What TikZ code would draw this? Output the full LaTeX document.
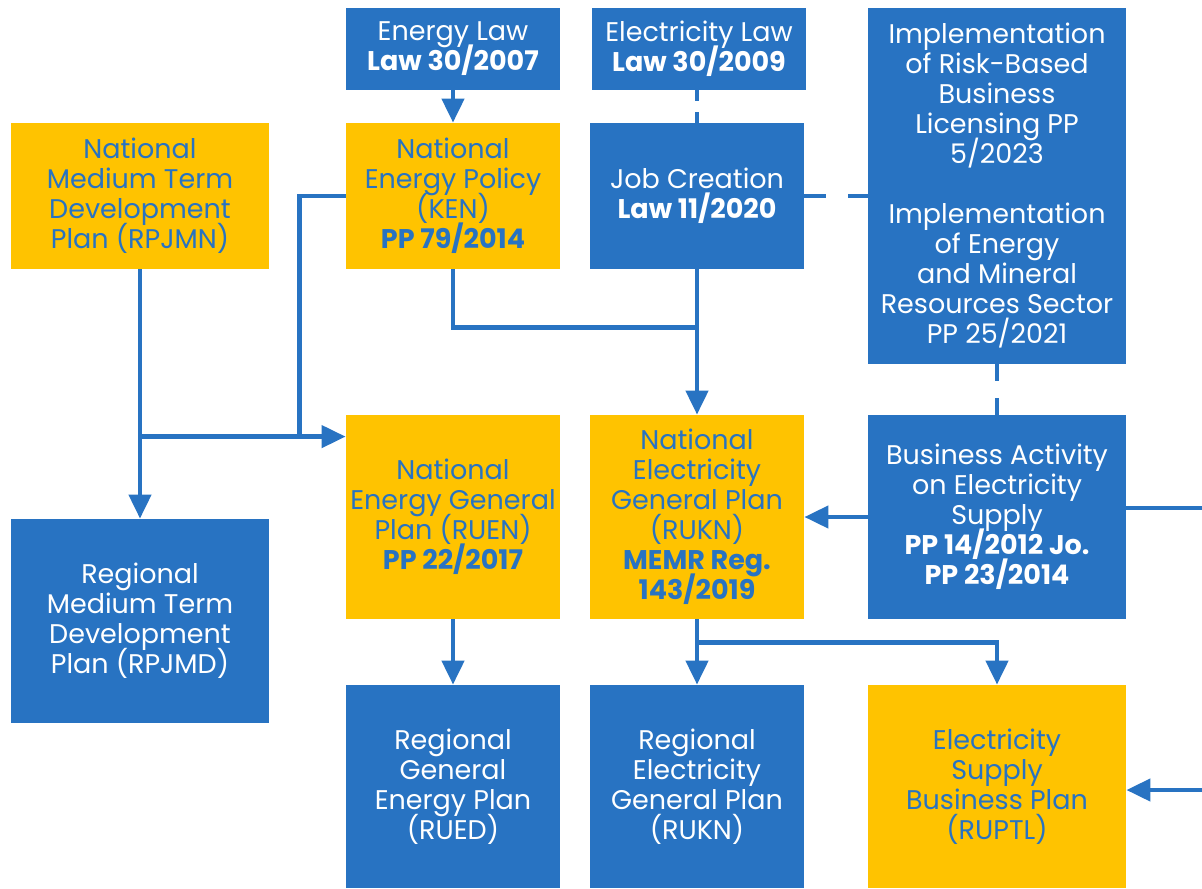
\documentclass[tikz,border=0pt]{standalone}
\usepackage{fontspec}
\setmainfont{Poppins}
\usetikzlibrary{calc,positioning,arrows.meta}

\definecolor{planblue}{HTML}{2873C2}
\definecolor{planyellow}{HTML}{FFC300}

\newcommand{\planfont}{\fontsize{13.5}{15}\selectfont\lineskiplimit=-20pt\relax}

\tikzset{
  box/.style={draw=none,inner sep=0pt,align=center,font=\planfont},
  bluebox/.style={box,fill=planblue,text=white},
  yellowbox/.style={box,fill=planyellow,text=planblue},
  narrow/.style={minimum width=107pt},
  wide/.style={minimum width=129pt},
  link/.style={planblue,line width=2.2pt},
  arrow/.style={link,-{Triangle[width=11pt,length=12pt]}},
  dashlink/.style={link,dash pattern=on #1 off #1},
}

\begin{document}
\begin{tikzpicture}[x=0.5pt,y=-0.5pt]
    \useasboundingbox (0,0) rectangle (1202,888);

    % Laws on top
    \node[bluebox,narrow,minimum height=41pt] (elaw) at (453,49) {Energy Law\\\textbf{Law 30/2007}};
    \node[bluebox,narrow,minimum height=41pt] (ellaw) at (699,49) {Electricity Law\\\textbf{Law 30/2009}};

    % Second row
    \node[yellowbox,wide,minimum height=73pt] (rpjmn) at (140,196) {National\\Medium Term\\Development\\Plan (RPJMN)};
    \node[yellowbox,narrow,minimum height=73pt] (ken) at (453,196) {National\\Energy Policy\\(KEN)\\\textbf{PP 79/2014}};
    \node[bluebox,narrow,minimum height=73pt] (job) at (697,196) {Job Creation\\\textbf{Law 11/2020}};
    \node[bluebox,wide,minimum height=178pt] (impl) at (997,186) {Implementation\\of Risk-Based\\Business\\Licensing PP\\5/2023\\[15pt]Implementation\\of Energy\\and Mineral\\Resources Sector\\PP 25/2021};

    % National plans
    \node[yellowbox,narrow,minimum height=102pt] (ruen) at (453,517) {National\\Energy General\\Plan (RUEN)\\\textbf{PP 22/2017}};
    \node[yellowbox,narrow,minimum height=102pt] (rukn) at (697,517) {National\\Electricity\\General Plan\\(RUKN)\\\textbf{MEMR Reg.}\\\textbf{143/2019}};
    \node[bluebox,wide,minimum height=102pt] (biz) at (997,517) {Business Activity\\on Electricity\\Supply\\\textbf{PP 14/2012 Jo.}\\\textbf{PP 23/2014}};

    % Regional plans
    \node[bluebox,wide,minimum height=102pt] (rpjmd) at (140,621) {Regional\\Medium Term\\Development\\Plan (RPJMD)};
    \node[bluebox,narrow,minimum height=101.5pt] (rued) at (453,786.5) {Regional\\General\\Energy Plan\\(RUED)};
    \node[bluebox,narrow,minimum height=101.5pt] (rrukn) at (697,786.5) {Regional\\Electricity\\General Plan\\(RUKN)};
    \node[yellowbox,wide,minimum height=101.5pt] (ruptl) at (997,786.5) {Electricity\\Supply\\Business Plan\\(RUPTL)};

    % Helper points
    \coordinate (kj) at ($(job.south)!0.4!(rukn.north)$);
    \coordinate (mr) at ($(ruen.north west)+(0,22)$);
    \coordinate (kb) at ($(mr)+(-46,0)$);
    \coordinate (rb) at ($(rukn.south)+(0,23)$);
    \coordinate (eastA) at (1202,508);
    \coordinate (eastB) at (1202,790);

    % Dashed links
    \draw[dashlink=5.5pt] (job.north |- ellaw.south) -- (job.north);
    \draw[dashlink=11pt] (job.east) -- (impl.west |- job.east);
    \draw[dashlink=8.5pt] (impl.south) -- (biz.north);

    % Solid links
    \draw[arrow] (elaw) -- (ken);
    \draw[link] (ken.south) |- (kj);
    \draw[arrow] (job) -- (rukn);
    \draw[arrow] (rpjmn) -- (rpjmd);
    \draw[link] (ken.west) -| (kb);
    \draw[arrow] (rpjmn.south |- mr) -- (mr);
    \draw[arrow] (biz) -- (rukn);
    \draw[link] (biz.east |- eastA) -- (eastA);
    \draw[arrow] (ruen) -- (rued);
    \draw[arrow] (rukn) -- (rrukn);
    \draw[arrow] (rb) -| (ruptl.north);
    \draw[arrow] (eastB) -- (ruptl.east |- eastB);
\end{tikzpicture}
\end{document}
